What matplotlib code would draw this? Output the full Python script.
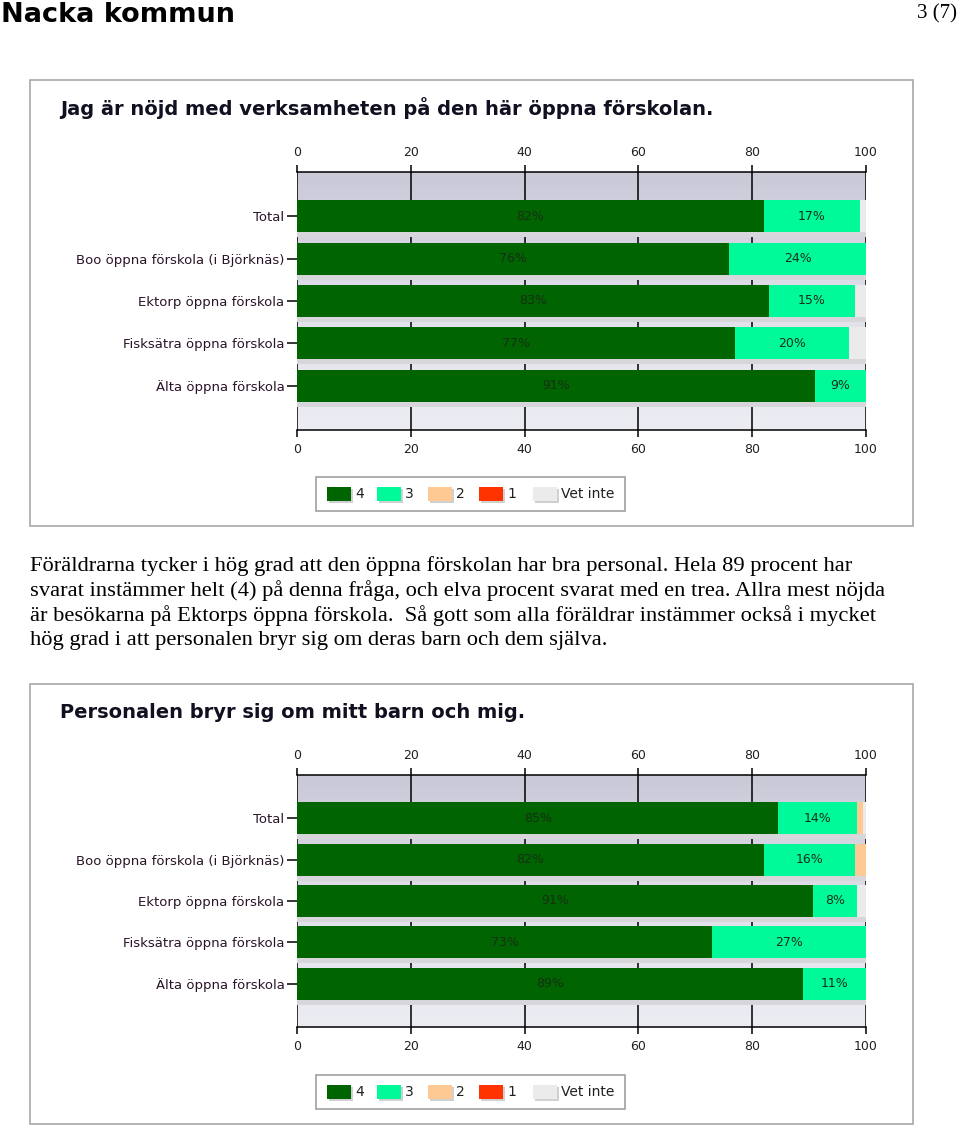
import numpy as np
import matplotlib
matplotlib.use("Agg")
import matplotlib.pyplot as plt
from matplotlib.patches import Rectangle
from matplotlib.colors import LinearSegmentedColormap

# ---- data ----
categories = ["Total", "Boo öppna förskola (i Björknäs)", "Ektorp öppna förskola",
              "Fisksätra öppna förskola", "Älta öppna förskola"]
series_names = ["4", "3", "2", "1", "Vet inte"]
series_colors = ["#006400", "#00fa9a", "#ffc993", "#ff3300", "#ebebeb"]

# chart 1: Jag är nöjd med verksamheten ...
c1_4 = [82, 76, 83, 77, 91]
c1_3 = [17, 24, 15, 20, 9]
c1_2 = [0, 0, 0, 0, 0]
c1_1 = [0, 0, 0, 0, 0]
c1_vi = [1, 0, 2, 3, 0]

# chart 2: Personalen bryr sig om mitt barn och mig.
c2_4 = [84.6, 82, 90.6, 73, 89]
c2_3 = [13.9, 16, 7.8, 27, 11]
c2_2 = [0.9, 2, 0, 0, 0]
c2_1 = [0, 0, 0, 0, 0]
c2_vi = [0.6, 0, 1.6, 0, 0]

title1 = "Jag är nöjd med verksamheten på den här öppna förskolan."
title2 = "Personalen bryr sig om mitt barn och mig."
xticks = [0, 20, 40, 60, 80, 100]

paragraph = [
    "Föräldrarna tycker i hög grad att den öppna förskolan har bra personal. Hela 89 procent har",
    "svarat instämmer helt (4) på denna fråga, och elva procent svarat med en trea. Allra mest nöjda",
    "är besökarna på Ektorps öppna förskola.  Så gott som alla föräldrar instämmer också i mycket",
    "hög grad i att personalen bryr sig om deras barn och dem själva.",
]

W, H = 960, 1127
fig = plt.figure(figsize=(W / 100, H / 100), dpi=100)


def fx(x):
    return x / W


def fy(y):
    return 1 - y / H


bg_cmap = LinearSegmentedColormap.from_list("bg", ["#c9c9d8", "#e0e0ea", "#ececf3"])


def draw_panel(box, title, top, bottom, series, legend_y):
    x0, y0, x1, y1 = box
    fig.patches.append(Rectangle((fx(x0), fy(y1)), fx(x1 - x0), (y1 - y0) / H,
                                 transform=fig.transFigure, facecolor="white",
                                 edgecolor="#a8a8a8", lw=1.2, zorder=-1))
    fig.text(fx(60), fy(y0 + 28), title, fontsize=14, fontweight="bold",
             color="#101020", va="center", ha="left", family="DejaVu Sans")

    ax = fig.add_axes([fx(297), fy(bottom), fx(866 - 297), (bottom - top) / H])
    n = len(categories)
    unit = (bottom - top) / 6.1
    ax.set_xlim(0, 100)
    ax.set_ylim(n - 1 + 1.05, -1.05)
    ax.imshow(np.linspace(0, 1, 100).reshape(-1, 1), aspect="auto", cmap=bg_cmap,
              extent=[0, 100, n - 1 + 1.05, -1.05], zorder=0)
    ax.set_axisbelow(True)
    ax.xaxis.grid(True, color="black", lw=1.1)
    ypos = np.arange(n)
    bh = 32 / unit
    # shadows
    ax.barh(ypos + 5 / unit, 100, height=bh, left=0, color="#d6d6db", zorder=1.5)
    left = np.zeros(n)
    for vals, col in zip(series, series_colors):
        vals = np.array(vals, dtype=float)
        ax.barh(ypos, vals, height=bh, left=left, color=col, zorder=2)
        for i, v in enumerate(vals):
            if v >= 5:
                ax.text(left[i] + v / 2, ypos[i], f"{v:.0f}%", ha="center", va="center",
                        fontsize=9, color="#163016", zorder=3)
        left += vals

    ax.set_xticks(xticks)
    ax.set_xticklabels([str(t) for t in xticks])
    ax.set_yticks(ypos)
    ax.set_yticklabels(categories)
    ax.tick_params(axis="x", top=True, labeltop=True, bottom=True, labelbottom=True,
                   direction="out", length=5, width=1.1, pad=4.5, labelsize=9,
                   labelcolor="#202020")
    ax.tick_params(axis="y", left=True, direction="out", length=7, width=1.1, pad=2,
                   labelsize=9.5, labelcolor="#2a1428")
    for s in ax.spines.values():
        s.set_color("black")
        s.set_linewidth(1.1)
    ax.spines["left"].set_visible(False)
    ax.spines["right"].set_visible(False)

    # legend box
    lx0, lx1 = 316, 625
    fig.patches.append(Rectangle((fx(lx0), fy(legend_y + 17)), fx(lx1 - lx0), 34 / H,
                                 transform=fig.transFigure, facecolor="white",
                                 edgecolor="#a0a0a0", lw=1.2))
    sq_x = [327, 377, 428, 479, 533]
    for sx, name, col in zip(sq_x, series_names, series_colors):
        fig.patches.append(Rectangle((fx(sx + 2), fy(legend_y + 9)), fx(24), 14 / H,
                                     transform=fig.transFigure, facecolor="#d0d0d0",
                                     edgecolor="none"))
        fig.patches.append(Rectangle((fx(sx), fy(legend_y + 7)), fx(24), 14 / H,
                                     transform=fig.transFigure, facecolor=col,
                                     edgecolor="none"))
        fig.text(fx(sx + 28), fy(legend_y), name, fontsize=10, color="#202020",
                 va="center", ha="left")
    return ax


# header
fig.text(fx(1), fy(22), "Nacka kommun", fontsize=19.5, fontweight="bold", family="DejaVu Sans",
         va="baseline", ha="left", color="black")
fig.text(fx(957), fy(14), "3 (7)", fontsize=15, family="Liberation Serif",
         va="center", ha="right", color="black")

draw_panel((30, 80, 913, 526), title1, 172, 430, [c1_4, c1_3, c1_2, c1_1, c1_vi], 494)
draw_panel((30, 684, 913, 1124), title2, 775, 1027, [c2_4, c2_3, c2_2, c2_1, c2_vi], 1092)

for i, line in enumerate(paragraph):
    fig.text(fx(30), fy(566 + 25 * i), line, fontsize=16.2, family="Liberation Serif",
             va="center", ha="left", color="black")

fig.savefig("out.png", dpi=100)
